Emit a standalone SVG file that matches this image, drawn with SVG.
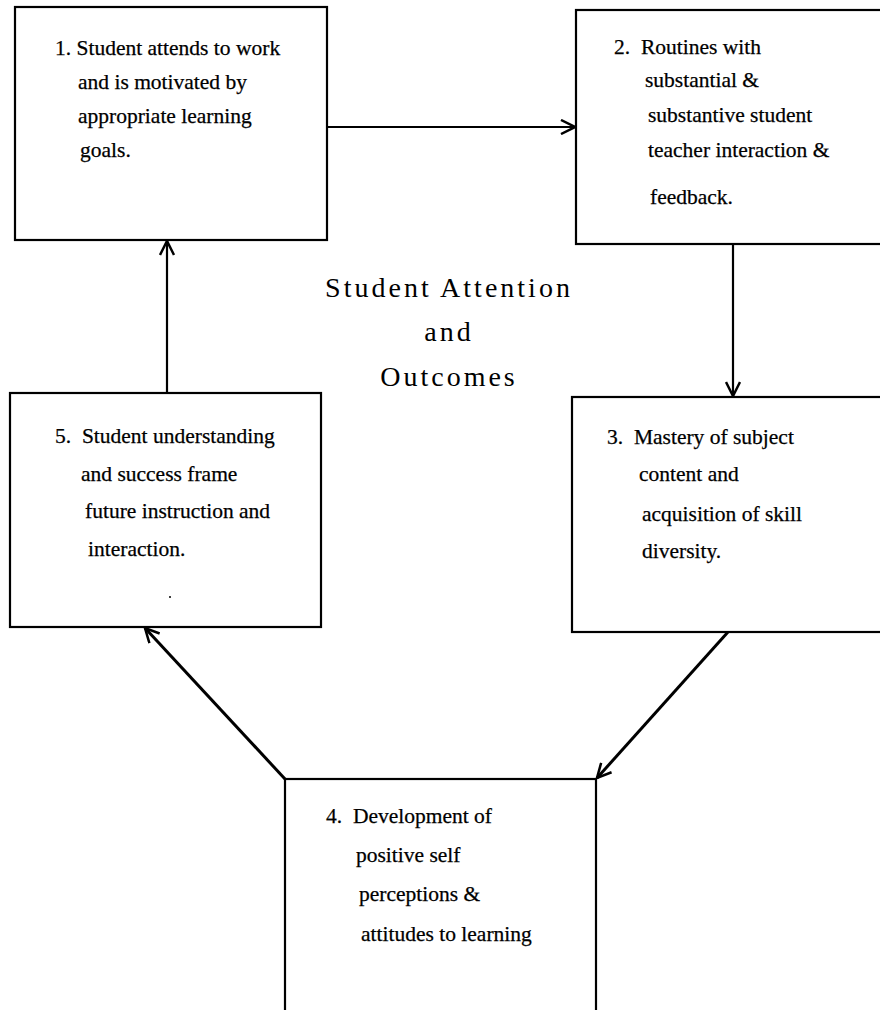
<svg xmlns="http://www.w3.org/2000/svg" width="880" height="1010" viewBox="0 0 880 1010">
  <style>
    .box { fill: #ffffff; stroke: #000000; stroke-width: 2.2; }
    .t { font-family: "Liberation Serif", "Times New Roman", serif; font-size: 21.5px; fill: #000000; stroke: #000000; stroke-width: 0.25; }
    .title { font-family: "Liberation Serif", "Times New Roman", serif; font-size: 28px; fill: #000000; letter-spacing: 3px; text-anchor: middle; }
    .conn { stroke: #000000; stroke-width: 2.2; fill: none; }
    .diag { stroke: #000000; stroke-width: 3; fill: none; }
  </style>
  <defs>
    <marker id="arrow" viewBox="0 0 16 16" markerWidth="16" markerHeight="16" refX="15" refY="8" orient="auto" markerUnits="userSpaceOnUse">
      <path d="M1,1 L15,8 L1,15" fill="none" stroke="#000000" stroke-width="2.5"/>
    </marker>
  </defs>
  <rect width="880" height="1010" fill="#ffffff"/>

  <g id="node1">
    <rect class="box" x="15" y="7" width="312" height="233"/>
    <text class="t" x="55" y="55">1. Student attends to work</text>
    <text class="t" x="78" y="89">and is motivated by</text>
    <text class="t" x="78" y="123">appropriate learning</text>
    <text class="t" x="80" y="157">goals.</text>
  </g>

  <g id="node2">
    <rect class="box" x="576" y="10" width="320" height="234"/>
    <text class="t" x="614" y="54" xml:space="preserve">2.  Routines with</text>
    <text class="t" x="645" y="87">substantial &amp;</text>
    <text class="t" x="648" y="122">substantive student</text>
    <text class="t" x="648" y="157">teacher interaction &amp;</text>
    <text class="t" x="650" y="204">feedback.</text>
  </g>

  <g id="node3">
    <rect class="box" x="572" y="397" width="330" height="235"/>
    <text class="t" x="607" y="444" xml:space="preserve">3.  Mastery of subject</text>
    <text class="t" x="639" y="481">content and</text>
    <text class="t" x="642" y="521">acquisition of skill</text>
    <text class="t" x="642" y="558">diversity.</text>
  </g>

  <g id="node4">
    <rect class="box" x="285" y="779" width="311" height="260"/>
    <text class="t" x="326" y="823" xml:space="preserve">4.  Development of</text>
    <text class="t" x="356" y="862">positive self</text>
    <text class="t" x="359" y="901">perceptions &amp;</text>
    <text class="t" x="361" y="941">attitudes to learning</text>
  </g>

  <g id="node5">
    <rect class="box" x="10" y="393" width="311" height="234"/>
    <text class="t" x="55" y="443" xml:space="preserve">5.  Student understanding</text>
    <text class="t" x="81" y="481">and success frame</text>
    <text class="t" x="85" y="518">future instruction and</text>
    <text class="t" x="88" y="556">interaction.</text>
    <circle cx="170" cy="597" r="1" fill="#000000"/>
  </g>

  <g id="title">
    <text class="title" x="449" y="297">Student Attention</text>
    <text class="title" x="449" y="341">and</text>
    <text class="title" x="449" y="386">Outcomes</text>
  </g>

  <g id="connectors">
    <line class="conn" x1="328" y1="127" x2="575" y2="127" marker-end="url(#arrow)"/>
    <line class="conn" x1="733" y1="245" x2="733" y2="396" marker-end="url(#arrow)"/>
    <line class="diag" x1="728" y1="632" x2="597" y2="778" marker-end="url(#arrow)"/>
    <line class="diag" x1="285" y1="779" x2="145" y2="628" marker-end="url(#arrow)"/>
    <line class="conn" x1="167" y1="392" x2="167" y2="241" marker-end="url(#arrow)"/>
  </g>
</svg>
